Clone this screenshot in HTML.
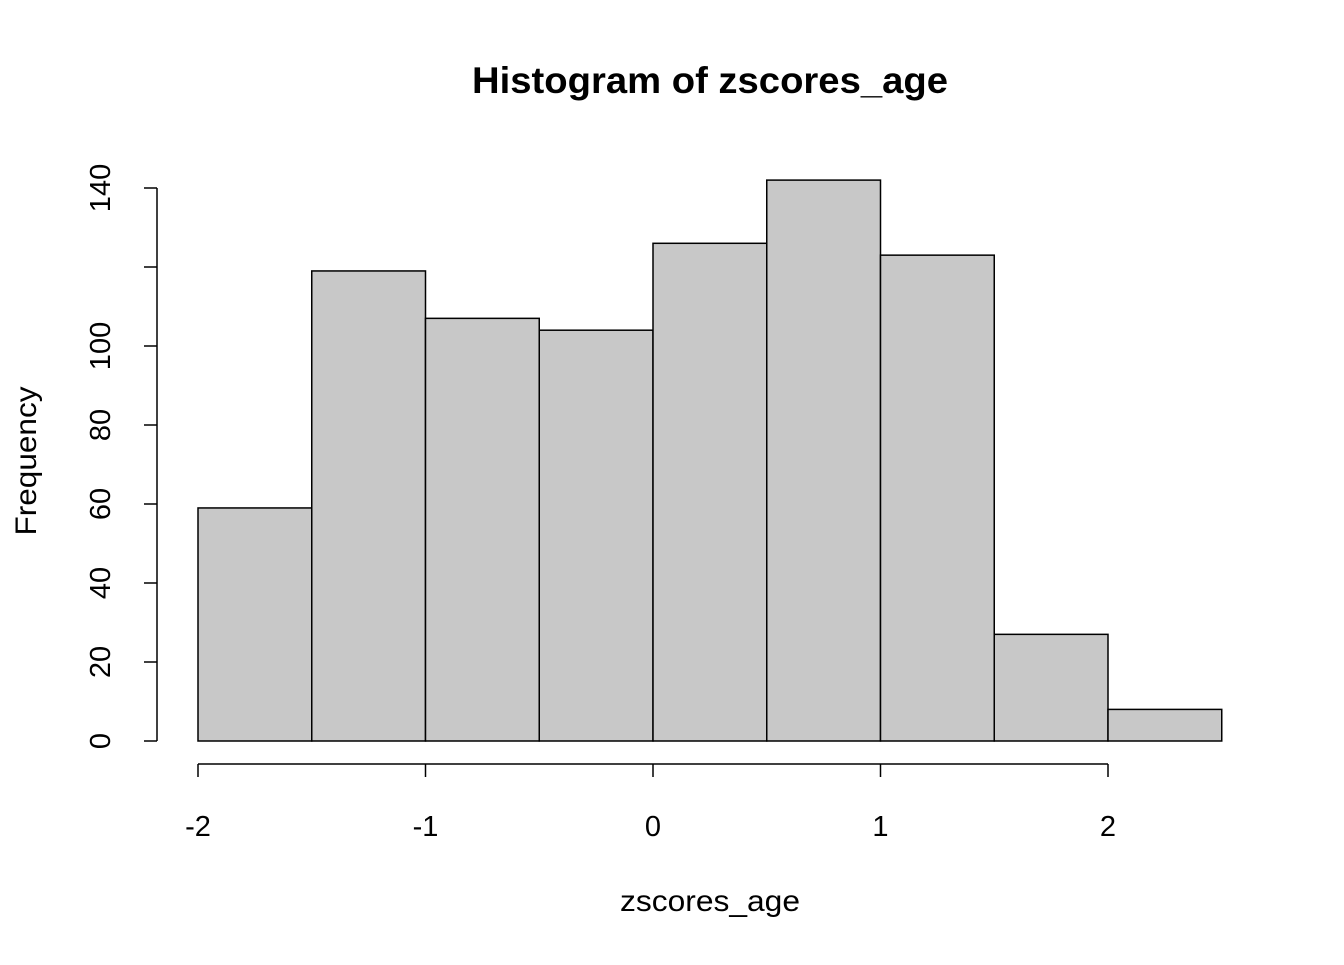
<!DOCTYPE html>
<html><head><meta charset="utf-8"><style>
body{margin:0;background:#fff}
svg text{font-family:"Liberation Sans",Arial,sans-serif;fill:#000}
</style></head><body>
<svg id="chart" width="1344" height="960" xmlns="http://www.w3.org/2000/svg">
<text x="710" y="93" font-size="37" font-weight="bold" text-anchor="middle" textLength="476" lengthAdjust="spacingAndGlyphs">Histogram of zscores_age</text>
<text x="710" y="911" font-size="30" text-anchor="middle" textLength="180" lengthAdjust="spacingAndGlyphs">zscores_age</text>
<text transform="translate(36,461) rotate(-90)" font-size="30" text-anchor="middle" textLength="149" lengthAdjust="spacingAndGlyphs">Frequency</text>
<g id="bars"></g><g id="axes"></g>
</svg>
<script>
const breaks=[-2,-1.5,-1,-0.5,0,0.5,1,1.5,2,2.5];
const counts=[59,119,107,104,126,142,123,27,8];
const xTicks=[-2,-1,0,1,2];
const yTicks=[0,20,40,60,80,100,120,140];
const yLabels=["0","20","40","60","80","100","","140"];
const ns="http://www.w3.org/2000/svg";
const X=v=>198+(v+2)*227.5;
const Y=v=>741-v*3.95;
function mk(t,a,p){const e=document.createElementNS(ns,t);for(const k in a)e.setAttribute(k,a[k]);p.appendChild(e);return e;}
const bars=document.getElementById('bars'),axes=document.getElementById('axes');
counts.forEach((c,i)=>{
 const r=mk('rect',{x:X(breaks[i]),y:Y(c),width:X(breaks[i+1])-X(breaks[i]),height:Y(0)-Y(c),fill:'#c8c8c8',stroke:'#000','stroke-width':1.5},bars);
 
 
});
const xl=mk('line',{x1:X(xTicks[0]),x2:X(xTicks[xTicks.length-1]),y1:764,y2:764,stroke:'#000','stroke-width':1.5},axes);


xTicks.forEach(v=>{
 mk('line',{x1:X(v),x2:X(v),y1:764,y2:777,stroke:'#000','stroke-width':1.5},axes);
 const t=mk('text',{x:X(v),y:836,'font-size':29,'text-anchor':'middle'},axes);t.textContent=v;
 
 
});
const yl=mk('line',{x1:157,x2:157,y1:Y(yTicks[yTicks.length-1]),y2:Y(0),stroke:'#000','stroke-width':1.5},axes);


yTicks.forEach((v,i)=>{
 mk('line',{x1:144,x2:157,y1:Y(v),y2:Y(v),stroke:'#000','stroke-width':1.5},axes);
 if(yLabels[i]){const t=mk('text',{transform:`translate(110,${Y(v)}) rotate(-90)`,'font-size':29,'text-anchor':'middle'},axes);t.textContent=yLabels[i];
 
 }
});
</script>
</body></html>
